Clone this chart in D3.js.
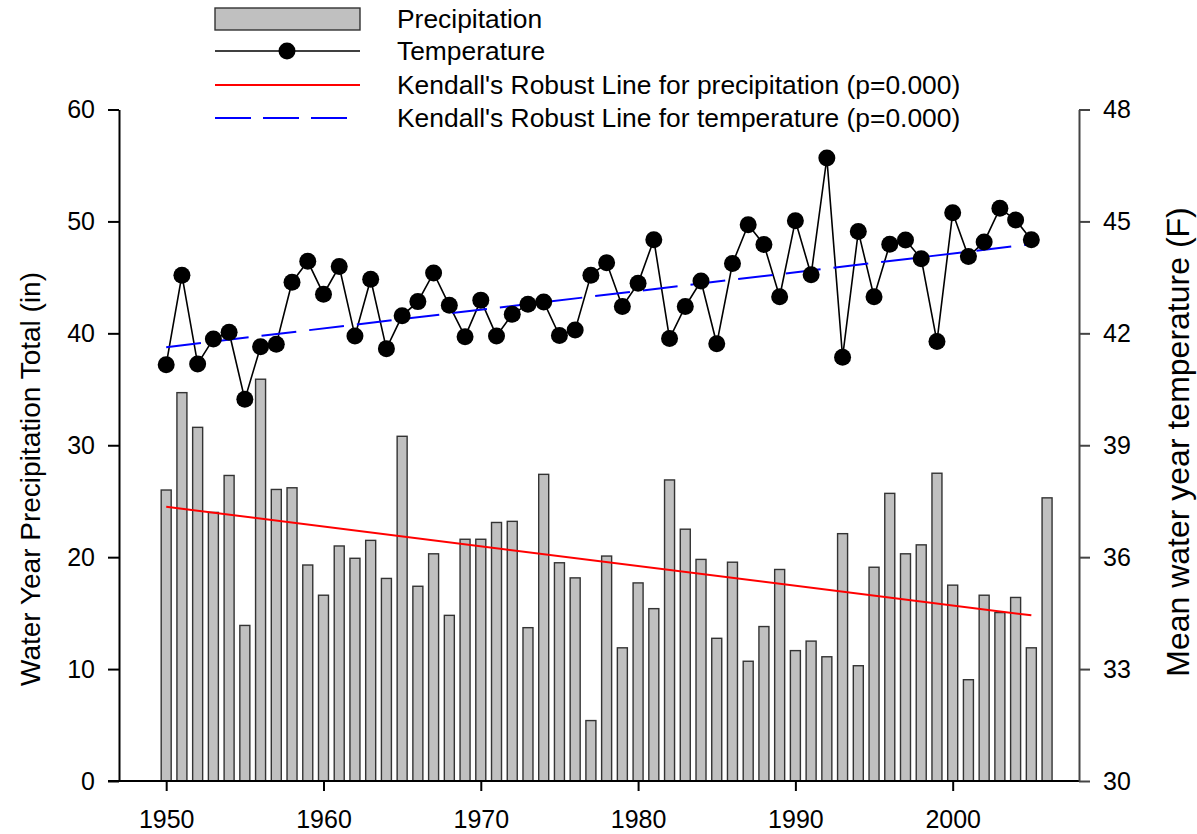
<!DOCTYPE html>
<html><head><meta charset="utf-8">
<script src="https://cdn.jsdelivr.net/npm/d3@7"></script>
<style>body{margin:0;background:#fff}svg{display:block}text{font-family:"Liberation Sans",Arial,sans-serif}</style>
</head><body><svg id="c" width="1197" height="834"></svg>
<script>
const years = d3.range(1950, 2007);
const precipitation = [26.0,34.7,31.6,24.0,27.3,13.9,35.9,26.05,26.2,19.3,16.6,21.0,19.9,21.5,18.1,30.8,17.4,20.3,14.8,21.6,21.6,23.1,23.2,13.7,27.4,19.5,18.15,5.4,20.1,11.9,17.7,15.4,26.9,22.5,19.8,12.75,19.55,10.7,13.8,18.9,11.65,12.5,11.1,22.1,10.3,19.1,25.7,20.3,21.1,27.5,17.5,9.05,16.6,15.05,16.4,11.9,25.3];
const tempYears = d3.range(1950, 2006);
const temperature = [41.16,43.56,41.18,41.85,42.03,40.23,41.64,41.71,43.37,43.93,43.05,43.79,41.93,43.45,41.59,42.47,42.85,43.62,42.75,41.91,42.89,41.93,42.51,42.78,42.84,41.94,42.09,43.56,43.89,42.72,43.34,44.51,41.86,42.72,43.40,41.72,43.87,44.91,44.38,42.98,45.02,43.57,46.70,41.36,44.73,42.98,44.39,44.50,44.00,41.78,45.23,44.06,44.45,45.35,45.04,44.51];
const precipTrend = {years:[1950,2005], values:[24.5,14.8]};
const tempTrend = {years:[1950,2005], values:[41.63,44.39]};
const xTicks = [1950,1960,1970,1980,1990,2000];
const leftTicks = [0,10,20,30,40,50,60];
const rightTicks = [30,33,36,39,42,45,48];
const legendLabels = ["Precipitation","Temperature","Kendall's Robust Line for precipitation (p=0.000)","Kendall's Robust Line for temperature (p=0.000)"];

const svg = d3.select("#c");
const L=119, R=1079, T=109.5, B=781;
const x = d3.scaleLinear().domain([1947.0, 2008.03]).range([L, R]);
const yL = d3.scaleLinear().domain([0,60]).range([B, T]);
const yR = d3.scaleLinear().domain([30,48]).range([B, T]);
const bw = 10;

// bars
svg.append("g").selectAll("rect").data(years).join("rect")
  .attr("x", d=>x(d)-bw/2).attr("width", bw)
  .attr("y", (d,i)=>yL(precipitation[i])).attr("height",(d,i)=>B-yL(precipitation[i]))
  .attr("fill","#c0c0c0").attr("stroke","#333").attr("stroke-width",1.4);

// precip trend
svg.append("line").attr("x1",x(precipTrend.years[0])).attr("x2",x(precipTrend.years[1]))
  .attr("y1",yL(precipTrend.values[0])).attr("y2",yL(precipTrend.values[1]))
  .attr("stroke","#ff0000").attr("stroke-width",2);

// temp line
const line = d3.line().x((d,i)=>x(tempYears[i])).y(d=>yR(d));
svg.append("path").datum(temperature).attr("d",line).attr("fill","none").attr("stroke","#000").attr("stroke-width",1.6);

// temp trend
svg.append("line").attr("x1",x(tempTrend.years[0])).attr("x2",x(tempTrend.years[1]))
  .attr("y1",yR(tempTrend.values[0])).attr("y2",yR(tempTrend.values[1]))
  .attr("stroke","#0000ff").attr("stroke-width",2).attr("stroke-dasharray","35,13");

svg.append("g").selectAll("circle").data(temperature).join("circle")
  .attr("cx",(d,i)=>x(tempYears[i])).attr("cy",d=>yR(d)).attr("r",8.5).attr("fill","#000");

// axes
const fs = 25;
const gx = svg.append("g").attr("transform",`translate(0,${B})`)
  .call(d3.axisBottom(x).tickValues(xTicks).tickFormat(d3.format("d")).tickSize(10).tickSizeOuter(0).tickPadding(19));
gx.select(".domain").attr("d",`M${L-11},0H${R}`);
const gl = svg.append("g").attr("transform",`translate(${L},0)`)
  .call(d3.axisLeft(yL).tickValues(leftTicks).tickSize(11).tickSizeOuter(0).tickPadding(13));
const gr = svg.append("g").attr("transform",`translate(${R},0)`)
  .call(d3.axisRight(yR).tickValues(rightTicks).tickSize(11).tickSizeOuter(0).tickPadding(13));
[gx,gl,gr].forEach(g=>{
  g.selectAll("path,line").attr("stroke","#000").attr("stroke-width",2);
  g.selectAll("text").attr("font-size",fs).attr("fill","#000").style("font-family","Liberation Sans, Arial, sans-serif");
});
gr.selectAll("path,line").attr("stroke","#444");

svg.append("text").attr("transform",`translate(40,479) rotate(-90)`).attr("text-anchor","middle")
  .attr("font-size",28).text("Water Year Precipitation Total (in)");
svg.append("text").attr("transform",`translate(1189,442) rotate(-90)`).attr("text-anchor","middle")
  .attr("font-size",32).text("Mean water year temperature (F)");

// legend
const lg = svg.append("g");
const rows = [19, 51, 85, 118];
lg.append("rect").attr("x",215).attr("y",8).attr("width",145).attr("height",22).attr("fill","#c0c0c0").attr("stroke","#333").attr("stroke-width",1.4);
lg.append("line").attr("x1",215).attr("x2",360).attr("y1",rows[1]).attr("y2",rows[1]).attr("stroke","#000").attr("stroke-width",1.6);
lg.append("circle").attr("cx",287).attr("cy",rows[1]).attr("r",8.5).attr("fill","#000");
lg.append("line").attr("x1",215).attr("x2",360).attr("y1",rows[2]).attr("y2",rows[2]).attr("stroke","#ff0000").attr("stroke-width",2);
lg.append("line").attr("x1",215).attr("x2",347).attr("y1",rows[3]).attr("y2",rows[3]).attr("stroke","#0000ff").attr("stroke-width",2).attr("stroke-dasharray","36,12");
lg.selectAll("text").data(legendLabels).join("text").attr("x",397).attr("y",(d,i)=>rows[i]+9)
  .attr("font-size",26.4).attr("fill","#000").text(d=>d);
</script></body></html>
